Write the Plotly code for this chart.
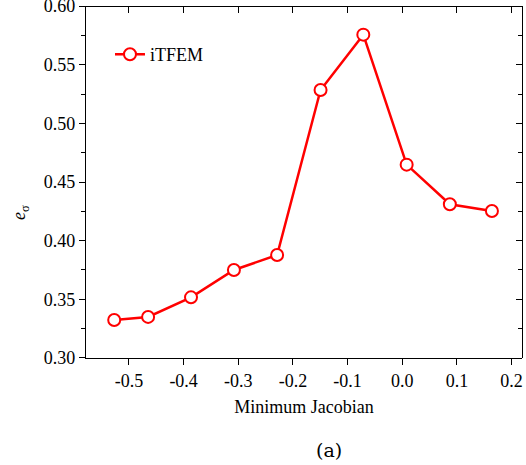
import plotly.graph_objects as go

min_jacobian = [-0.527, -0.465, -0.3865, -0.308, -0.229, -0.1495, -0.0713, 0.008, 0.087, 0.164]
e_sigma = [0.3324, 0.335, 0.3517, 0.375, 0.3878, 0.5284, 0.5756, 0.4648, 0.431, 0.4253]
series_name = "iTFEM"
x_ticks = [-0.5, -0.4, -0.3, -0.2, -0.1, 0.0, 0.1, 0.2]
y_ticks = [0.30, 0.35, 0.40, 0.45, 0.50, 0.55, 0.60]
y_minor = [0.325, 0.375, 0.425, 0.475, 0.525, 0.575]

xr = [-0.5786, 0.219]
yr = [0.29999, 0.60001]
FONT = "Liberation Serif"
FS = 18

fig = go.Figure()
fig.add_trace(go.Scatter(
    x=min_jacobian, y=e_sigma, name=series_name, mode="lines+markers",
    line=dict(color="#ff0000", width=2.5),
    marker=dict(symbol="circle", size=12, color="white", line=dict(color="#ff0000", width=2)),
))
# invisible trace to hold mirrored axes
fig.add_trace(go.Scatter(x=[min_jacobian[0]], y=[e_sigma[0]], xaxis="x2", yaxis="y2", mode="markers",
                         marker=dict(opacity=0), showlegend=False, hoverinfo="skip"))

axis_common = dict(showgrid=False, zeroline=False, showline=True, linecolor="black", linewidth=1.2,
                   tickcolor="black", ticklen=6, tickwidth=1.2, ticklabeloverflow="allow",
                   automargin=False,
                   tickfont=dict(family=FONT, size=FS, color="black"))
fig.update_layout(
    width=526, height=465,
    margin=dict(l=86, r=4, t=6, b=107, autoexpand=False),
    plot_bgcolor="white", paper_bgcolor="white",
    font=dict(family=FONT, size=FS, color="black"),
    xaxis=dict(range=xr, tickvals=x_ticks, ticktext=[f"{v:.1f}" for v in x_ticks], ticks="outside",
               title=dict(text="Minimum Jacobian", font=dict(family=FONT, size=FS), standoff=10),
               anchor="y", **axis_common),
    yaxis=dict(range=yr, tickvals=y_ticks, ticktext=[f"{v:.2f}" for v in y_ticks], ticks="outside",
               minor=dict(ticks="outside", ticklen=4, tickvals=y_minor, tickcolor="black"),
               anchor="x", **axis_common),
    xaxis2=dict(range=xr, overlaying="x", side="top", anchor="free", position=1, tickvals=x_ticks,
                ticks="inside", showticklabels=False, **axis_common),
    yaxis2=dict(range=yr, overlaying="y", side="right", anchor="free", position=1, tickvals=y_ticks,
                ticks="inside", showticklabels=False,
                minor=dict(ticks="inside", ticklen=4, tickvals=y_minor, tickcolor="black"),
                **axis_common),
    legend=dict(x=0.055, y=0.862, xanchor="left", yanchor="middle", bgcolor="rgba(0,0,0,0)",
                font=dict(family=FONT, size=FS), itemwidth=30),
    showlegend=True,
)
fig.add_annotation(text="<i>e</i><sub>σ</sub>", xref="paper", yref="paper",
                   x=(20 - 86) / 436, y=(358 - 213) / 352, textangle=-90, showarrow=False,
                   xanchor="center", yanchor="middle", font=dict(family=FONT, size=FS))
fig.add_annotation(text="(a)", xref="paper", yref="paper",
                   x=(329 - 86) / 436, y=-(450 - 358) / 352, showarrow=False,
                   xanchor="center", yanchor="middle", font=dict(family="DejaVu Serif", size=19))
fig.write_html("out.html", config={"displayModeBar": False},
               post_script="document.body.style.margin='0';document.body.style.overflow='hidden';")
